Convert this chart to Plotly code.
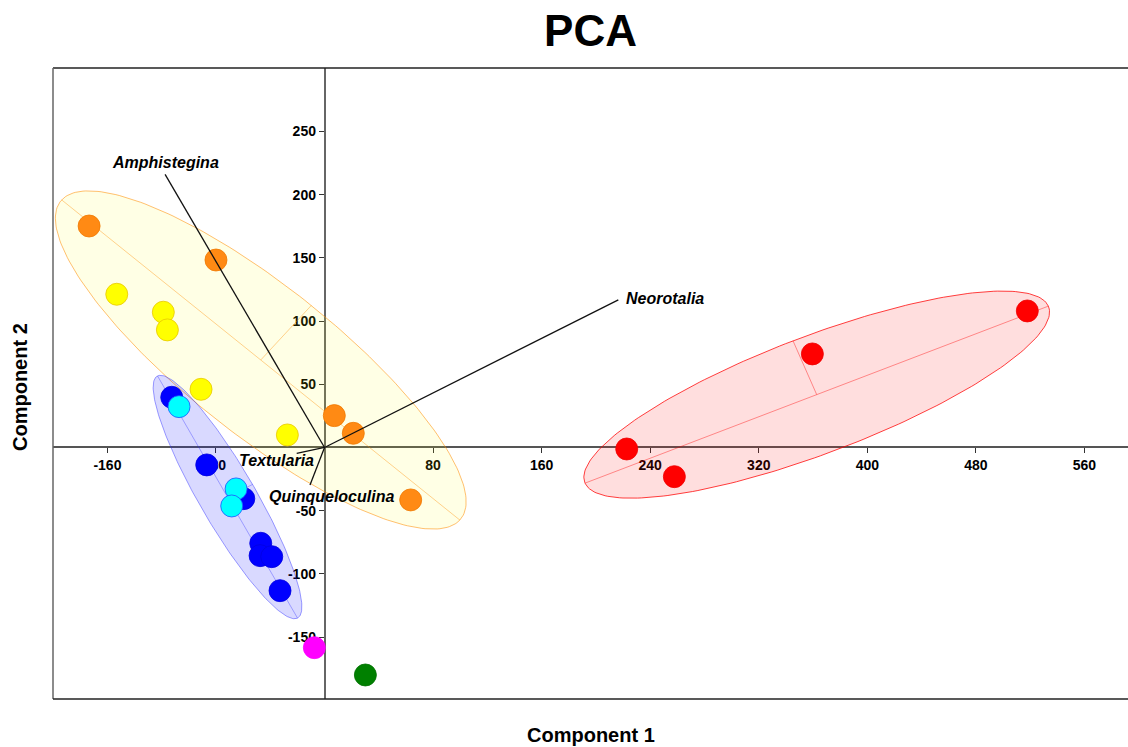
import numpy as np
import plotly.graph_objects as go

# ---------------- data ----------------
orange_x = [-173.5, -80.0, 7.2, 21.2, 63.5]
orange_y = [175.2, 148.3, 25.2, 11.2, -41.5]

yellow_x = [-153.1, -118.8, -115.8, -91.0, -27.4]
yellow_y = [121.2, 107.0, 93.0, 46.0, 9.9]

blue_x = [-112.6, -86.8, -59.5, -47.0, -47.5, -38.9, -32.8]
blue_y = [39.7, -13.8, -40.5, -75.8, -85.6, -86.4, -113.3]

cyan_x = [-107.2, -65.2, -68.4]
cyan_y = [32.3, -32.8, -46.3]

magenta_x = [-7.5]
magenta_y = [-158.4]

green_x = [30.1]
green_y = [-180.0]

red_x = [222.7, 257.8, 359.5, 517.9]
red_y = [-1.2, -23.1, 74.0, 108.0]

# biplot loading vectors
loading_names = ["Amphistegina", "Neorotalia", "Textularia", "Quinqueloculina"]
loading_x = [-117.5, 216.5, -20.5, -10.7]
loading_y = [216.1, 116.7, -4.6, -29.7]

# 95% ellipses: centre, semi-axes, angle (degrees, data space)
ell_cx = [-47.0, -71.5, 362.7]
ell_cy = [69.2, -39.2, 41.8]
ell_a = [193.8, 108.8, 184.5]
ell_b = [57.0, 21.0, 46.0]
ell_angle = [-40.8, -61.7, 22.3]

x_ticks = [-160, -80, 80, 160, 240, 320, 400, 480, 560]
y_ticks = [-150, -100, -50, 50, 100, 150, 200, 250]

# ---------------- styling ----------------
FONT = "Liberation Sans, Arial, Helvetica, sans-serif"
X_RANGE = [-200.1, 592.1]
Y_RANGE = [-199.0, 300.2]

ell_fill = ["rgba(255,255,0,0.10)", "rgba(0,0,255,0.15)", "rgba(255,0,0,0.13)"]
ell_line = ["rgba(255,140,0,0.55)", "rgba(40,40,255,0.45)", "rgba(255,0,0,0.75)"]
ell_axis = ["rgba(255,140,0,0.40)", "rgba(40,40,255,0.35)", "rgba(255,0,0,0.40)"]

fig = go.Figure()

t = np.linspace(0, 2 * np.pi, 240)
for i in range(len(ell_cx)):
    th = np.deg2rad(ell_angle[i])
    ux, uy = np.cos(th), np.sin(th)
    vx, vy = -np.sin(th), np.cos(th)
    ex = ell_cx[i] + ell_a[i] * np.cos(t) * ux + ell_b[i] * np.sin(t) * vx
    ey = ell_cy[i] + ell_a[i] * np.cos(t) * uy + ell_b[i] * np.sin(t) * vy
    fig.add_trace(go.Scatter(x=ex, y=ey, mode="lines", fill="toself",
                             fillcolor=ell_fill[i],
                             line=dict(color=ell_line[i], width=1),
                             hoverinfo="skip", showlegend=False))
    # major axis
    fig.add_trace(go.Scatter(
        x=[ell_cx[i] - ell_a[i] * ux, ell_cx[i] + ell_a[i] * ux],
        y=[ell_cy[i] - ell_a[i] * uy, ell_cy[i] + ell_a[i] * uy],
        mode="lines", line=dict(color=ell_axis[i], width=1),
        hoverinfo="skip", showlegend=False))
    # minor semi-axis
    fig.add_trace(go.Scatter(
        x=[ell_cx[i], ell_cx[i] + ell_b[i] * vx],
        y=[ell_cy[i], ell_cy[i] + ell_b[i] * vy],
        mode="lines", line=dict(color=ell_axis[i], width=1),
        hoverinfo="skip", showlegend=False))

groups = [
    (orange_x, orange_y, "#FF8A14", "#F07800"),
    (yellow_x, yellow_y, "#FFFF00", "#E8C800"),
    (blue_x, blue_y, "#0000FF", "#0000E0"),
    (cyan_x, cyan_y, "#00FFFF", "#2050FF"),
    (magenta_x, magenta_y, "#FF00FF", "#FF00FF"),
    (green_x, green_y, "#008000", "#007000"),
    (red_x, red_y, "#FF0000", "#F00000"),
]
for gx, gy, col, lc in groups:
    fig.add_trace(go.Scatter(x=gx, y=gy, mode="markers",
                             marker=dict(size=22, color=col,
                                         line=dict(color=lc, width=0.8)),
                             showlegend=False))

# loading vectors
for lx, ly in zip(loading_x, loading_y):
    fig.add_trace(go.Scatter(x=[0, lx], y=[0, ly], mode="lines",
                             line=dict(color="#111111", width=1.3),
                             hoverinfo="skip", showlegend=False))

# loading labels
label_pos = {
    "Amphistegina": (-117.5, 225.1, "center"),
    "Neorotalia": (220.7, 117.5, "left"),
    "Textularia": (-6.3, -10.7, "right"),
    "Quinqueloculina": (5.2, -38.4, "center"),
}
for name in loading_names:
    ax_, ay_, anc = label_pos[name]
    fig.add_annotation(x=ax_, y=ay_, text=name, showarrow=False,
                       xanchor=anc, yanchor="middle",
                       font=dict(family=FONT, size=16, color="black",
                                 weight="bold", style="italic"))

xpos = (0 - Y_RANGE[0]) / (Y_RANGE[1] - Y_RANGE[0])
ypos = (0 - X_RANGE[0]) / (X_RANGE[1] - X_RANGE[0])

axis_font = dict(family=FONT, size=14, color="black", weight="bold")
fig.update_layout(
    width=1128, height=747,
    margin=dict(l=53, r=0, t=68, b=48),
    paper_bgcolor="white", plot_bgcolor="white",
    showlegend=False,
    title=dict(text="PCA", x=0.5, xref="paper", xanchor="center",
               y=1 - 31 / 747, yref="container", yanchor="middle",
               font=dict(family=FONT, size=44, color="black", weight="bold")),
    xaxis=dict(range=X_RANGE, anchor="free", position=xpos,
               tickvals=x_ticks, ticktext=[str(v) for v in x_ticks],
               ticks="outside", ticklen=5, tickwidth=1.2, tickcolor="#333",
               showline=True, linecolor="#555", linewidth=1.5,
               showgrid=False, zeroline=False, layer="below traces",
               tickfont=axis_font),
    yaxis=dict(range=Y_RANGE, anchor="free", position=ypos,
               tickvals=y_ticks, ticktext=[str(v) for v in y_ticks],
               ticks="outside", ticklen=5, tickwidth=1.2, tickcolor="#333",
               showline=True, linecolor="#666", linewidth=1.5,
               showgrid=False, zeroline=False, layer="below traces",
               tickfont=axis_font),
)

# frame (top, left, bottom)
frame = dict(type="line", xref="paper", yref="paper", layer="above")
fig.add_shape(**frame, x0=0, x1=1, y0=1, y1=1, line=dict(color="#222", width=1.5))
fig.add_shape(**frame, x0=0, x1=0, y0=0, y1=1, line=dict(color="#666", width=1.5))
fig.add_shape(**frame, x0=0, x1=1, y0=0, y1=0, line=dict(color="#222", width=1.5))

fig.add_annotation(text="Component 1", xref="paper", yref="paper",
                   x=0.5, y=-36 / 631, xanchor="center", yanchor="middle",
                   showarrow=False,
                   font=dict(family=FONT, size=20, color="black", weight="bold"))
fig.add_annotation(text="Component 2", xref="paper", yref="paper",
                   x=-33 / 1075, y=0.5 - 3.5 / 631, xanchor="center", yanchor="middle",
                   textangle=-90, showarrow=False,
                   font=dict(family=FONT, size=20, color="black", weight="bold"))

fig.write_html(
    "out.html",
    config={"displayModeBar": False},
    post_script="document.body.style.margin='0';"
                "document.body.style.overflow='hidden';",
)
